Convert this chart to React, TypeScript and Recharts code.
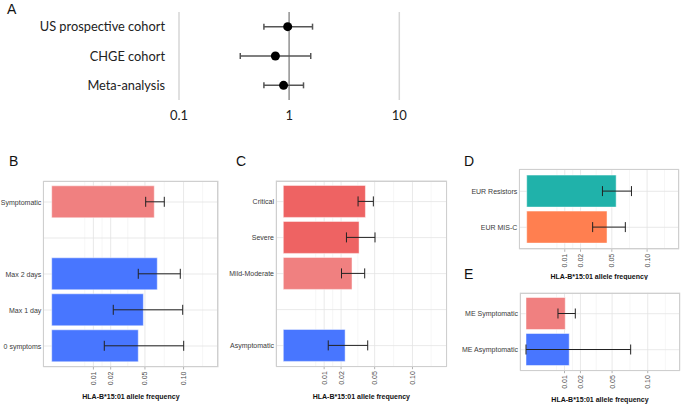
import React from "react";
import {
  ScatterChart, Scatter, BarChart, Bar, Cell, XAxis, YAxis, ZAxis,
  CartesianGrid, ErrorBar, ReferenceLine,
} from "recharts";

// Panel A – odds ratios per cohort
const cohorts = ["US prospective cohort", "CHGE cohort", "Meta-analysis"];
const orValue = [0.97, 0.75, 0.89];
const orLower = [0.59, 0.36, 0.59];
const orUpper = [1.63, 1.57, 1.35];
const orTicks = [0.1, 1, 10];

// Panels B–E – HLA-B*15:01 allele frequency
const freqTicks = [0.01, 0.02, 0.05, 0.1];
const freqMinor = [0.0063, 0.0146, 0.0333, 0.0729, 0.131];

const bCats = ["Symptomatic", " ", "Max 2 days", "Max 1 day", "0 symptoms"];
const bFreq = [0.0605, null, 0.0641, 0.0483, 0.0431];
const bLow = [0.0508, null, 0.0431, 0.0218, 0.0159];
const bHigh = [0.0729, null, 0.0951, 0.0987, 0.1002];
const bColors = ["#F08080", "#ffffff", "#4876FF", "#4876FF", "#4876FF"];

const cCats = ["Critical", "Severe", "Mild-Moderate", " ", "Asymptomatic"];
const cFreq = [0.0404, 0.0344, 0.0283, null, 0.0229];
const cLow = [0.0335, 0.0239, 0.0203, null, 0.0121];
const cHigh = [0.0486, 0.0504, 0.0397, null, 0.0427];
const cColors = ["#EE6363", "#EE6363", "#F08080", "#ffffff", "#4876FF"];

const dCats = ["EUR Resistors", "EUR MIS-C"];
const dFreq = [0.0552, 0.0445];
const dLow = [0.0396, 0.03];
const dHigh = [0.0757, 0.0671];
const dColors = ["#20B2AA", "#FF7F50"];

const eCats = ["ME Symptomatic", "ME Asymptomatic"];
const eFreq = [0.0104, 0.0126];
const eLow = [0.0069, 0];
const eHigh = [0.0164, 0.0739];
const eColors = ["#F08080", "#4876FF"];

const AXIS_TITLE = "HLA-B*15:01 allele frequency";
const SANS = "'Liberation Sans', Arial, sans-serif";

const forestData = cohorts.map((name, i) => ({
  name,
  or: orValue[i],
  err: [orValue[i] - orLower[i], orUpper[i] - orValue[i]],
}));

const buildRows = (cats: string[], freq: (number | null)[], low: (number | null)[], high: (number | null)[]) =>
  cats.map((name, i) => ({
    name,
    freq: freq[i],
    err: freq[i] == null ? undefined : [freq[i]! - low[i]!, high[i]! - freq[i]!],
  }));

const RotTick = ({ x, y, payload }: any) => (
  <text
    x={x}
    y={y}
    transform={`rotate(-90 ${x} ${y})`}
    textAnchor="end"
    dominantBaseline="central"
    fontSize={7}
    fontFamily={SANS}
    fill="#4d4d4d"
  >
    {Number(payload.value).toFixed(2)}
  </text>
);

const CatTick = ({ x, y, payload }: any) => (
  <text x={x} y={y} textAnchor="end" dominantBaseline="central" fontSize={7} fontFamily={SANS} fill="#3a3a3a">
    {payload.value}
  </text>
);

type PanelProps = {
  cats: string[]; freq: (number | null)[]; low: (number | null)[]; high: (number | null)[];
  colors: string[];
  left: number; top: number; width: number; height: number;
  yWidth: number; mTop: number; mRight: number; plotH: number;
  padLeft: number; padY: number; titleOffset: number;
};

function FreqPanel(p: PanelProps) {
  const rows = buildRows(p.cats, p.freq, p.low, p.high);
  const xHeight = p.height - p.mTop - p.plotH;
  const plotW = p.width - p.yWidth - p.mRight;
  return (
    <div style={{ position: "absolute", left: p.left, top: p.top, width: p.width, height: p.height }}>
      <BarChart
        width={p.width}
        height={p.height}
        data={rows}
        layout="vertical"
        margin={{ top: p.mTop, right: p.mRight, left: 0, bottom: 0 }}
        barCategoryGap="5%"
      >
        <CartesianGrid horizontal={false} verticalValues={freqMinor} stroke="#f0f0f0" strokeWidth={0.6} />
        <CartesianGrid stroke="#e3e3e3" strokeWidth={0.8} />
        <XAxis
          type="number"
          scale="sqrt"
          domain={[0, 0.16]}
          ticks={freqTicks}
          padding={{ left: p.padLeft, right: 0 }}
          axisLine={false}
          tickSize={2.5}
          tickLine={{ stroke: "#b3b3b3" }}
          tickMargin={2}
          tick={<RotTick />}
          height={xHeight}
          interval={0}
          label={{
            value: AXIS_TITLE,
            position: "insideBottom",
            offset: p.titleOffset,
            style: { fontSize: 7, fontWeight: 700, fill: "#111", fontFamily: SANS },
          }}
        />
        <YAxis
          type="category"
          dataKey="name"
          width={p.yWidth}
          axisLine={false}
          tickLine={false}
          tickSize={0}
          tickMargin={2}
          interval={0}
          padding={{ top: p.padY, bottom: p.padY }}
          tick={<CatTick />}
        />
        <Bar dataKey="freq" isAnimationActive={false} stroke="#ffffff" strokeOpacity={0.6} strokeWidth={0.8}>
          {rows.map((r, i) => (
            <Cell key={i} fill={p.colors[i]} />
          ))}
          <ErrorBar dataKey="err" direction="x" width={5} stroke="#222" strokeWidth={1} />
        </Bar>
      </BarChart>
      <div
        style={{
          position: "absolute",
          left: p.yWidth,
          top: p.mTop,
          width: plotW,
          height: p.plotH,
          border: "1px solid #cfcfcf",
          boxSizing: "border-box",
        }}
      />
    </div>
  );
}

const letter = (t: string, left: number, top: number) => (
  <div style={{ position: "absolute", left, top, fontFamily: SANS, fontSize: 14, color: "#111", lineHeight: "14px" }}>
    {t}
  </div>
);

export default function App() {
  return (
    <div style={{ position: "absolute", left: 0, top: 0, width: 681, height: 405, background: "#fff", overflow: "hidden" }}>
      {letter("A", 7, 2)}
      <div style={{ position: "absolute", left: 0, top: 0 }}>
        <ScatterChart width={420} height={130} margin={{ top: 12, right: 20.7, left: 0, bottom: 0 }}>
          <CartesianGrid horizontal={false} stroke="#d6d6d6" strokeWidth={1.5} />
          <ReferenceLine x={1} stroke="#9a9a9a" strokeWidth={1.5} />
          <XAxis
            type="number"
            dataKey="or"
            scale="log"
            domain={[0.1, 10]}
            ticks={orTicks}
            interval={0}
            axisLine={false}
            tickLine={false}
            tickSize={0}
            tickMargin={11}
            height={30}
            tickFormatter={v => String(v)}
            tick={{ fontSize: 13, fill: "#222", fontFamily: "Lato, sans-serif" }}
          />
          <YAxis
            type="category"
            dataKey="name"
            width={179}
            reversed
            axisLine={false}
            tickLine={false}
            tickSize={0}
            tickMargin={14}
            interval={0}
            tick={{ fontSize: 12.8, fill: "#222", fontFamily: "Lato, sans-serif" }}
          />
          <ZAxis range={[70, 70]} />
          <Scatter data={forestData} fill="#000" shape="circle" isAnimationActive={false}>
            <ErrorBar dataKey="err" direction="x" width={3} stroke="#555" strokeWidth={1.5} />
          </Scatter>
        </ScatterChart>
      </div>

      {letter("B", 9, 154)}
      <FreqPanel
        cats={bCats} freq={bFreq} low={bLow} high={bHigh} colors={bColors}
        left={0} top={170} width={225} height={235}
        yWidth={43.3} mTop={11} mRight={6.5} plotH={186}
        padLeft={8.4} padY={3} titleOffset={6.5}
      />

      {letter("C", 236, 154)}
      <FreqPanel
        cats={cCats} freq={cFreq} low={cLow} high={cHigh} colors={cColors}
        left={222} top={170} width={230} height={235}
        yWidth={54} mTop={10.5} mRight={5.3} plotH={186.2}
        padLeft={7.3} padY={3.1} titleOffset={6.5}
      />

      {letter("D", 464, 154)}
      <FreqPanel
        cats={dCats} freq={dFreq} low={dLow} high={dHigh} colors={dColors}
        left={455} top={160} width={226} height={120}
        yWidth={64.3} mTop={9.3} mRight={2} plotH={80}
        padLeft={7.4} padY={4} titleOffset={1}
      />

      {letter("E", 464, 267)}
      <FreqPanel
        cats={eCats} freq={eFreq} low={eLow} high={eHigh} colors={eColors}
        left={455} top={282} width={226} height={123}
        yWidth={65} mTop={10.7} mRight={1} plotH={78}
        padLeft={6} padY={3} titleOffset={3.5}
      />
    </div>
  );
}
